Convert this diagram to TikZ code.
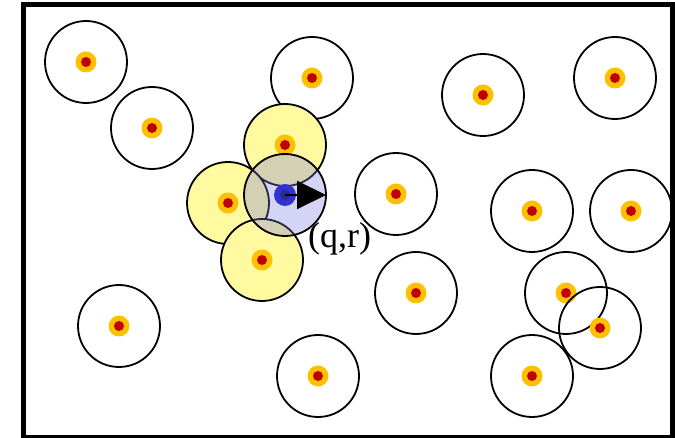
\documentclass[tikz,border=0pt]{standalone}
\usepackage{fontspec}
\setmainfont{Liberation Serif}
\usetikzlibrary{arrows.meta, positioning}

\definecolor{rangeyellow}{RGB}{255,250,160}
\definecolor{rangeblue}{RGB}{121,121,222}
\definecolor{dotorange}{RGB}{255,192,0}
\definecolor{dotred}{RGB}{192,0,0}
\definecolor{dotblue}{RGB}{50,50,210}
\definecolor{dotnavy}{RGB}{40,40,150}

\begin{document}
\begin{tikzpicture}[
x=1pt, y=-1pt,
rangedisc/.style={circle, draw, line width=1.8pt, minimum size=82pt, inner sep=0pt},
yellowrange/.style={rangedisc, fill=rangeyellow},
bluerange/.style={rangedisc, fill=rangeblue, fill opacity=0.32},
sensor/.style={circle, fill=dotorange, minimum size=21pt, inner sep=0pt,
  path picture={\fill[dotred] (path picture bounding box.center) circle (5pt);}},
mover/.style={circle, fill=dotblue, minimum size=22pt, inner sep=0pt,
  path picture={\fill[dotnavy] (path picture bounding box.center) circle (5pt);}},
arrow/.style={-{Triangle[length=29pt, width=28pt]}, line width=2pt}
]
\useasboundingbox (0,0) rectangle (675,438);

% frame
\draw[line width=5pt] (23,5) rectangle (672,437);

% plain sensors
\foreach \name/\x/\y in {a/86/62, b/152/128, c/312/78, d/483/95, e/615/78,
  f/396/194, g/532/211, h/631/211, i/566/293, j/600/328, k/416/293,
  l/119/326, m/318/376, n/532/376} {
  \node[rangedisc] (r\name) at (\x,\y) {};
  \node[sensor] (s\name) at (\x,\y) {};
}

% neighbours of the moving node
\foreach \name/\x/\y in {u/285/145, v/228/203, w/262/260} {
  \node[yellowrange] (r\name) at (\x,\y) {};
  \node[sensor] (s\name) at (\x,\y) {};
}

% moving node
\node[bluerange] (rq) at (285,195) {};
\node[mover] (sq) at (285,195) {};
\coordinate (tip) at (326,195);
\draw[arrow] (sq.center) -- (tip);

\node[anchor=base west, font=\fontsize{36}{40}\selectfont, inner sep=0pt] (label) at (308,248) {(q,r)};

\end{tikzpicture}
\end{document}
